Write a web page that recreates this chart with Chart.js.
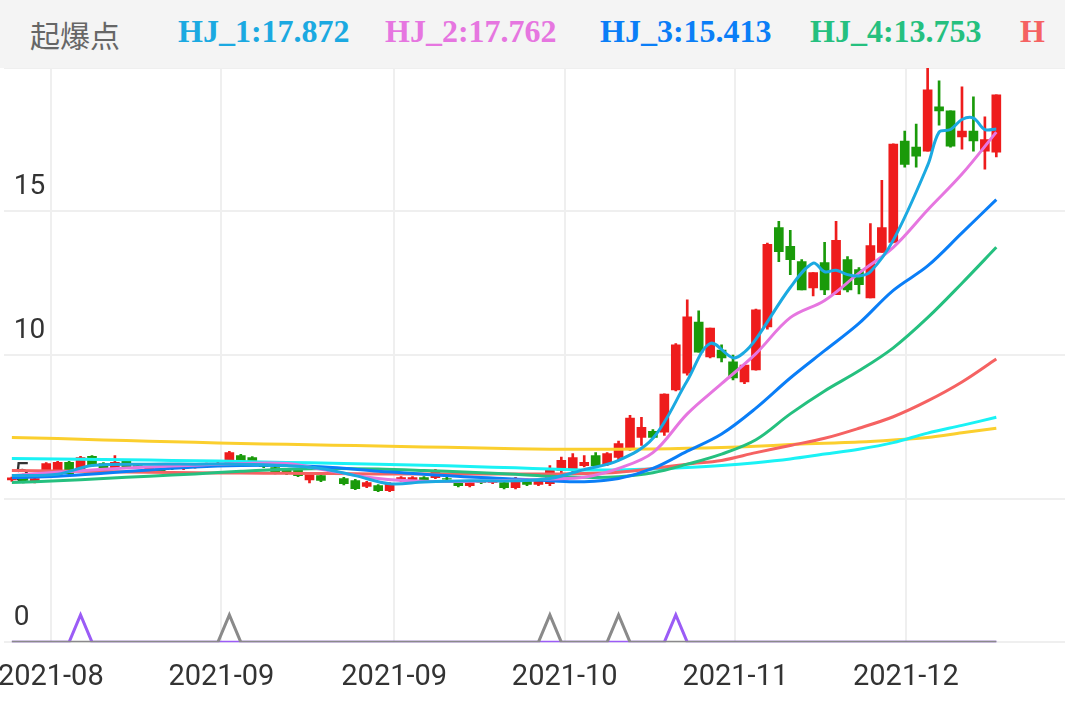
<!DOCTYPE html>
<html>
<head>
<meta charset="utf-8">
<script src="https://cdn.jsdelivr.net/npm/chart.js@4"></script>
<style>
  html, body { margin: 0; padding: 0; background: #fff; overflow: hidden; }
  #head { height: 68px; background: #f4f4f4; white-space: nowrap; overflow: hidden; position: relative; z-index: 2; }
  #head span { position: absolute; top: 13px; font: bold 32px "Liberation Serif", serif; }
  #head .name { font: 30px "Noto Sans CJK SC", sans-serif; color: #666; top: 12px; }
  #wrap { position: relative; width: 1086px; height: 672px; margin-top: -27px; margin-left: -21px; z-index: 1; }
</style>
</head>
<body>
<div id="head"></div>
<div id="wrap"><canvas id="chart"></canvas></div>
<script>
// candle values, one per trading day
const opens = [5.65,5.80,5.58,5.80,5.80,6.26,5.98,6.47,6.22,6.05,6.33,6.15,6.02,6.00,6.10,6.05,6.10,6.12,6.15,6.26,
  6.50,6.43,6.20,6.08,5.98,5.98,5.65,5.80,5.98,5.70,5.63,5.42,5.45,5.28,5.63,5.63,5.73,5.73,5.70,5.56,
  5.45,5.60,5.56,5.56,5.38,5.66,5.49,5.52,5.98,5.98,6.15,6.50,6.22,6.43,6.75,7.13,7.34,7.31,8.78,9.37,
  11.15,9.93,10.17,9.76,9.06,9.48,10.98,14.44,13.78,13.25,12.34,13.22,12.10,13.32,12.97,11.99,13.57,13.92,17.45,17.24,
  17.10,18.64,18.50,17.59,17.80,17.10,17.06];
const closes = [5.72,5.63,5.70,6.22,6.26,5.87,6.43,6.15,6.08,6.26,6.08,6.12,6.08,5.95,6.05,6.10,6.17,6.20,6.22,6.60,
  6.26,6.26,6.12,5.90,5.87,5.80,5.85,5.63,5.87,5.52,5.35,5.56,5.28,5.52,5.73,5.73,5.63,5.98,5.68,5.45,
  5.56,5.56,5.60,5.38,5.70,5.49,5.63,5.98,6.33,6.43,6.26,6.15,6.57,6.92,7.80,7.48,7.13,8.64,10.35,11.33,
  10.10,10.94,9.90,9.20,9.65,11.57,13.85,13.60,13.32,12.27,12.87,12.27,13.99,12.27,12.45,13.81,14.44,17.34,16.64,16.92,
  19.23,18.50,17.27,17.80,17.45,17.50,19.06];
const highs = [5.75,5.85,5.75,6.25,6.30,6.30,6.47,6.50,6.25,6.50,6.36,6.18,6.12,6.04,6.13,6.14,6.21,6.24,6.26,6.65,
  6.54,6.46,6.24,6.12,6.02,6.02,5.89,5.84,6.02,5.74,5.67,5.60,5.49,5.56,5.77,5.77,5.77,6.02,5.74,5.60,
  5.60,5.64,5.64,5.60,5.74,5.70,5.67,6.15,6.45,6.57,6.50,6.60,6.60,7.00,7.90,7.83,7.40,8.65,10.40,11.92,
  11.54,10.94,10.35,10.00,9.65,11.60,13.90,14.65,14.34,13.32,12.87,13.92,14.65,13.43,13.04,14.58,16.08,17.35,17.80,18.04,
  20.00,19.55,18.50,19.34,18.99,18.29,19.06];
const lows = [5.60,5.55,5.55,5.78,5.78,5.83,5.94,6.11,6.04,6.01,6.04,6.09,5.98,5.91,6.01,6.01,6.06,6.08,6.11,6.22,
  6.22,6.22,6.08,5.86,5.83,5.76,5.55,5.59,5.83,5.48,5.31,5.38,5.24,5.24,5.59,5.59,5.59,5.69,5.64,5.41,
  5.41,5.52,5.52,5.34,5.34,5.45,5.45,5.45,5.90,5.94,6.10,6.10,6.15,6.33,6.68,6.85,7.09,7.20,8.75,9.30,
  10.10,9.90,9.76,9.13,9.00,9.47,10.90,13.25,12.80,12.27,12.06,12.10,12.10,12.20,12.13,11.99,13.57,13.90,16.54,16.54,
  17.10,18.00,17.24,17.17,17.10,16.47,16.90];

// tick labels and where the date grid lines fall (candle index units)
const dateLabels = ["2021-08","2021-09","2021-09","2021-10","2021-11","2021-12"];
const datePos = [3.4, 18.3, 33.4, 48.3, 63.2, 78.1];
const yTicks = [0, 5, 10, 15, 20];

// moving-average lines, sampled at candle indices
const sampleIdx = [0,4,8,12,16,20,24,28,32,36,40,44,47,50,53,56,59,62,65,68,71,74,77,80,83,86];
const hj2 = [5.8,5.92,6.02,6.1,6.16,6.22,6.22,5.95,5.7,5.6,5.6,5.64,5.68,5.74,6.05,6.6,7.95,9.0,10.05,11.3,11.9,12.85,13.75,15.05,16.3,17.76];
const hj3 = [5.73,5.78,5.88,6.0,6.1,6.15,6.15,6.08,5.95,5.85,5.75,5.68,5.62,5.59,5.7,6.05,6.65,7.25,8.15,9.2,10.15,11.1,12.25,13.1,14.25,15.41];
const hj4 = [5.56,5.62,5.7,5.78,5.86,5.95,6.02,6.05,6.03,5.98,5.92,5.85,5.78,5.74,5.76,5.9,6.2,6.55,7.05,7.95,8.75,9.45,10.25,11.3,12.5,13.75];
const hj5 = [5.98,5.96,5.94,5.92,5.9,5.89,5.88,5.87,5.86,5.86,5.86,5.86,5.86,5.87,5.92,6.05,6.2,6.33,6.6,6.85,7.1,7.45,7.85,8.4,9.06,9.86];
const hj6 = [6.4,6.38,6.36,6.34,6.32,6.29,6.26,6.23,6.2,6.16,6.12,6.07,6.03,6.0,6.0,6.03,6.08,6.15,6.25,6.38,6.55,6.72,6.95,7.28,7.55,7.83];
const hj7 = [7.13,7.09,7.04,7.0,6.96,6.92,6.89,6.86,6.83,6.8,6.77,6.74,6.72,6.72,6.72,6.73,6.75,6.78,6.82,6.88,6.93,6.97,7.04,7.13,7.29,7.45];
const hj1Idx = [0,4,7,12,16,20,24,27,30,33,36,40,44,47,50,53,56,59,61,63,64,65,68,70,71,72,73,74,75,77,80,81,82,83,84,85,86];
const hj1 = [5.8,5.85,6.15,6.2,6.2,6.2,6.15,6.05,5.8,5.52,5.58,5.62,5.62,5.7,6.01,6.33,7.1,9.1,10.4,9.9,10.1,10.55,12.35,13.2,12.9,12.95,12.8,12.75,12.9,14.0,16.6,17.76,17.85,18.2,18.25,17.85,17.87];

// signal spikes (起爆点)
const purpleHits = [6, 58];
const grayHits = [19, 47, 53];

const header = [
  { text: "起爆点", color: "#666", left: 30, cls: "name" },
  { text: "HJ_1:17.872", color: "#1ba9e1", left: 178 },
  { text: "HJ_2:17.762", color: "#e676e0", left: 385 },
  { text: "HJ_3:15.413", color: "#0a7ef7", left: 600 },
  { text: "HJ_4:13.753", color: "#25c07f", left: 810 },
  { text: "H", color: "#f56262", left: 1020 }
];
const head = document.getElementById("head");
header.forEach((h) => {
  const s = document.createElement("span");
  s.textContent = h.text;
  s.style.color = h.color;
  s.style.left = h.left + "px";
  if (h.cls) s.className = h.cls;
  head.appendChild(s);
});

const RED = "#ee1c1c", GREEN = "#1a9a0a";
const candleColor = opens.map((o, i) => closes[i] >= o ? RED : GREEN);
const bodies = opens.map((o, i) => ({ x: i, y: [o, closes[i]] }));
const wicks = opens.map((o, i) => ({ x: i, y: [lows[i], highs[i]] }));
const pts = (xs, ys) => xs.map((x, i) => ({ x, y: ys[i] }));
const signal = (hits) => opens.map((o, i) => ({ x: i, y: hits.includes(i) ? 0.95 : 0 }));

const line = (data, color, width = 3, tension = 0.35) => ({
  type: "line", data, borderColor: color, borderWidth: width, pointRadius: 0,
  tension, order: 1
});

new Chart(document.getElementById("chart"), {
  data: {
    datasets: [
      line(signal(grayHits), "#8a8a8a", 3, 0),
      line(signal(purpleHits), "#9b5cf6", 3, 0),
      line(pts(hj1Idx, hj1), "#1ba9e1"),
      line(pts(sampleIdx, hj2), "#e676e0"),
      line(pts(sampleIdx, hj3), "#0a7ef7"),
      line(pts(sampleIdx, hj4), "#25c07f"),
      line(pts(sampleIdx, hj5), "#f56262"),
      line(pts(sampleIdx, hj6), "#1af2f5"),
      line(pts(sampleIdx, hj7), "#fbcf2e"),
      { type: "bar", data: wicks, backgroundColor: candleColor, barThickness: 2, grouped: false, order: 3 },
      { type: "bar", data: bodies, backgroundColor: candleColor, barThickness: 9, grouped: false, order: 2 }
    ]
  },
  options: {
    responsive: true,
    maintainAspectRatio: false,
    animation: false,
    layout: { padding: 0 },
    plugins: { legend: { display: false }, tooltip: { enabled: false } },
    scales: {
      x: {
        type: "linear", min: -0.7, max: 92, offset: false,
        afterBuildTicks: (axis) => { axis.ticks = datePos.map((v) => ({ value: v })); },
        grid: { color: "#efefef", lineWidth: 2, drawTicks: false, offset: false },
        border: { display: false },
        ticks: {
          color: "#333", font: { size: 29, family: "Roboto" }, padding: 18, maxRotation: 0, autoSkip: false,
          callback: (v, i) => dateLabels[i]
        }
      },
      y: {
        min: 0, max: 20,
        afterBuildTicks: (axis) => { axis.ticks = yTicks.map((v) => ({ value: v })); },
        grid: { color: "#efefef", lineWidth: 2, drawTicks: false },
        border: { display: false },
        ticks: {
          mirror: true, padding: 10, labelOffset: -24, color: "#333",
          font: { size: 28, family: "Roboto" },
          callback: (v) => v === 20 ? "" : String(v)
        }
      }
    }
  }
});
</script>
</body>
</html>
